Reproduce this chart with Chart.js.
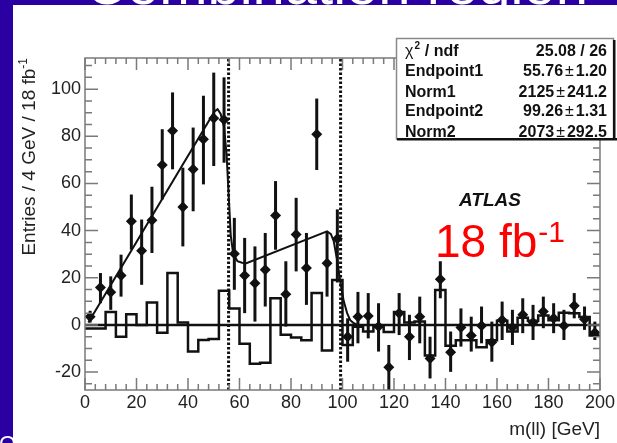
<!DOCTYPE html>
<html>
<head>
<meta charset="utf-8">
<script src="https://cdn.jsdelivr.net/npm/chart.js@4"></script>
<style>
body { margin: 0; background: #fff; }
canvas { display: block; }
</style>
</head>
<body>
<canvas id="myChart" width="617" height="443"></canvas>
<script>
// bin centres (4 GeV bins)
var binCenters = [2, 6, 10, 14, 18, 22, 26, 30, 34, 38, 42, 46, 50, 54, 58, 62, 66, 70, 74, 78,
    82, 86, 90, 94, 98, 102, 106, 110, 114, 118, 122, 126, 130, 134, 138, 142, 146, 150, 154, 158,
    162, 166, 170, 174, 178, 182, 186, 190, 194, 198];
// points with error bars
var dataValues = [3.5, 15.9, 13.9, 21, 44, 31.5, 44.4, 67.8, 82.3, 50,
    66, 78.7, 87.7, 87, 30.2, 21, 17.7, 23.4, 46.4, 13,
    38.3, 24.1, 80.9, 26.2, 36.5, -5, 3.5, 3.8, -0.7, -18,
    5, -5, 3.5, -14.2, 19.4, -11.6, -1.1, -4.5, -0.4, -7.4,
    2.1, -1, 4.3, 1, 5.7, 2.8, -0.4, 8.1, 2.4, -3.3];
var errHigh = [6, 22, 20.6, 29.8, 55.3, 44.7, 58.6, 83, 98.6, 66.7,
    83.7, 97.2, 107, 105, 45.4, 36.9, 33.3, 39, 61, 27,
    53.9, 39, 96, 39.7, 49, 2.8, 14, 13.5, 9.2, -8.5,
    13.5, 4.3, 12, -5, 27, -2.8, 7, 3.5, 7.8, 1.4,
    9.9, 6.4, 11.3, 8.5, 12, 9.2, 6.4, 13.5, 7.8, 1.4];
var errLow = [1, 9.2, 6.4, 12, 31.9, 17, 30.5, 53.2, 66, 33.3,
    48.2, 59.6, 67.4, 68.8, 14.9, 5, 1.4, 7.8, 31.9, -0.7,
    22.7, 8.5, 65.7, 12, 18, -15.6, -7.8, -5.7, -11.3, -27.7,
    -4.3, -14.9, -7.8, -22.7, 11.3, -19.9, -9.2, -11.3, -7.8, -15.6,
    -6.4, -8.5, -3.5, -6.4, -1.4, -3.5, -6.4, 2.8, -2.1, -6.4];
// open histogram (one value per bin)
var histValues = [-1.5, -1.5, 5.5, -5, 4.5, 0, 9.5, -3.3, 22, 1,
    -11.3, -6.4, -6, 14.5, 7, -8, -16.5, -16, 11.3, -4.2,
    -5.3, -6.5, 13.5, -10.8, 19, -8.5, -0.8, -2.8, -0.8, -3,
    5.5, 1, 1.5, -13, 14.8, -8.8, -6.5, -6.5, -9.5, -6.5,
    1.8, -2.8, 3, 1.8, 4, 2, 5.2, 5, 3.4, -4.5];
// fit curve
var fitX = [1.3, 50.3, 51.5, 52.7, 54, 55, 55.8, 56.6, 57.5, 59.2, 61, 62.7,
    94, 95.5, 96.6, 98, 99.2, 100.5, 101.8, 103, 104.4, 106, 200];
var fitY = [1, 90.5, 91.5, 89.5, 84, 72, 55, 38, 30.5, 27, 26.4, 26.2,
    39.7, 38.5, 35.5, 27, 17.7, 10, 5, 2, 0.7, 0, 0];
var endpoints = [55.76, 99.26];
var xTicks = [0, 20, 40, 60, 80, 100, 120, 140, 160, 180, 200];
var yTicks = [-20, 0, 20, 40, 60, 80, 100];
var xMin = 0, xMax = 200, yMin = -27.6, yMax = 113.2;

var statsLabels = ['Endpoint1', 'Norm1', 'Endpoint2', 'Norm2'];
var statsVals = ['55.76', '2125', '99.26', '2073'];
var statsErrs = ['1.20', '241.2', '1.31', '292.5'];

var fuente = '"Liberation Sans", Arial, Helvetica, sans-serif';
Chart.defaults.font.family = fuente;
Chart.defaults.color = '#222';

var puntos = binCenters.map(function (x, i) { return { x: x, y: dataValues[i] }; });
var histPts = binCenters.map(function (x, i) { return { x: x - 2, y: histValues[i] }; });
histPts.push({ x: xMax, y: histValues[histValues.length - 1] });
var fitPts = fitX.map(function (x, i) { return { x: x, y: fitY[i] }; });

var decor = {
    id: 'decor',
    beforeDraw: function (chart) {
        var c = chart.ctx;
        c.save();
        // blue slide frame
        c.fillStyle = '#2a00a3';
        c.fillRect(0, 0, 617, 443);
        c.fillStyle = '#fff';
        c.fillRect(13, 5, 604, 438);
        // slide title, mostly cut off
        c.save();
        c.beginPath(); c.rect(13, 0, 604, 5); c.clip();
        c.fillStyle = '#fff';
        c.font = '58px ' + fuente;
        c.textBaseline = 'alphabetic';
        c.fillText('Combination region', 85, 4);
        c.restore();
        c.save();
        c.beginPath(); c.rect(0, 380, 13, 63); c.clip();
        c.fillStyle = '#fff';
        c.font = '22px ' + fuente;
        c.fillText('O', -1, 451);
        c.restore();
        c.restore();
    },
    afterDatasetsDraw: function (chart) {
        var c = chart.ctx, xs = chart.scales.x, ys = chart.scales.y, a = chart.chartArea;
        c.save();
        c.beginPath(); c.rect(a.left, a.top, a.right - a.left, a.bottom - a.top); c.clip();
        c.strokeStyle = '#111';
        c.lineWidth = 3;
        for (var i = 0; i < binCenters.length; i++) {
            var px = xs.getPixelForValue(binCenters[i]);
            c.beginPath();
            c.moveTo(px, ys.getPixelForValue(errHigh[i]));
            c.lineTo(px, ys.getPixelForValue(errLow[i]));
            c.stroke();
        }
        c.restore();
    },
    afterDraw: function (chart) {
        var c = chart.ctx, xs = chart.scales.x, ys = chart.scales.y, a = chart.chartArea;
        c.save();
        // frame and ticks
        c.strokeStyle = '#7a7a7a';
        c.lineWidth = 1.5;
        c.strokeRect(a.left, a.top, a.right - a.left, a.bottom - a.top);
        c.beginPath();
        for (var v = xMin; v <= xMax; v += 4) {
            var px = xs.getPixelForValue(v);
            var len = (v % 20 === 0) ? 12 : 6;
            c.moveTo(px, a.bottom); c.lineTo(px, a.bottom - len);
            c.moveTo(px, a.top); c.lineTo(px, a.top + len);
        }
        for (var w = -25; w <= 110; w += 5) {
            var py = ys.getPixelForValue(w);
            var l2 = (w % 20 === 0) ? 13 : 7;
            c.moveTo(a.left, py); c.lineTo(a.left + l2, py);
            c.moveTo(a.right, py); c.lineTo(a.right - l2, py);
        }
        c.stroke();

        // y axis title with superscript
        c.save();
        c.translate(35, 58);
        c.rotate(-Math.PI / 2);
        c.fillStyle = '#222';
        c.textBaseline = 'alphabetic';
        c.textAlign = 'right';
        c.font = '12px ' + fuente;
        var wSup = c.measureText('-1').width;
        c.fillText('-1', 0, -8);
        c.font = '19px ' + fuente;
        c.fillText('Entries / 4 GeV / 18 fb', -wSup, 0);
        c.restore();

        // stats box
        c.fillStyle = '#fff';
        c.fillRect(396, 38, 218, 101);
        c.strokeStyle = '#8a8a8a';
        c.lineWidth = 1.5;
        c.strokeRect(396.5, 38.5, 217, 100.5);
        c.fillStyle = '#111';
        c.fillRect(397, 138, 220, 2.5);
        c.fillRect(613, 40, 2.5, 100);

        var baselines = [56, 76, 97, 115.5, 137];
        c.fillStyle = '#111';
        c.textBaseline = 'alphabetic';
        c.textAlign = 'left';
        c.font = '16px ' + fuente;
        c.fillText('\u03c7', 405, baselines[0]);
        var wChi = c.measureText('\u03c7').width;
        c.font = 'bold 10px ' + fuente;
        c.fillText('2', 405 + wChi + 1, baselines[0] - 7);
        c.font = 'bold 16px ' + fuente;
        c.fillText(' / ndf', 405 + wChi + 7, baselines[0]);
        c.textAlign = 'right';
        c.fillText('25.08 / 26', 607, baselines[0]);
        for (var k = 0; k < statsLabels.length; k++) {
            var b = baselines[k + 1];
            c.textAlign = 'left';
            c.font = 'bold 16px ' + fuente;
            c.fillText(statsLabels[k], 405, b);
            c.textAlign = 'right';
            c.fillText(statsErrs[k], 607, b);
            var we = c.measureText(statsErrs[k]).width;
            c.font = '16px ' + fuente;
            c.fillText('\u00b1', 607 - we - 2, b);
            var wpm = c.measureText('\u00b1').width;
            c.font = 'bold 16px ' + fuente;
            c.fillText(statsVals[k], 607 - we - wpm - 4, b);
        }

        // ATLAS label and luminosity
        c.textAlign = 'left';
        c.fillStyle = '#111';
        c.font = 'italic bold 19px ' + fuente;
        c.fillText('ATLAS', 459, 206);
        c.fillStyle = '#ff0000';
        c.font = '46px ' + fuente;
        c.fillText('18 fb', 435, 257);
        var wLum = c.measureText('18 fb').width;
        c.font = '30px ' + fuente;
        c.fillText('-1', 435 + wLum + 1, 242);
        c.restore();
    }
};

var ctx = document.getElementById('myChart').getContext('2d');
var myChart = new Chart(ctx, {
    type: 'scatter',
    data: {
        datasets: [
            {
                label: 'hist',
                data: histPts,
                showLine: true,
                stepped: true,
                borderColor: '#111',
                borderWidth: 2.5,
                pointRadius: 0
            },
            {
                label: 'zero',
                data: [{ x: xMin, y: 0 }, { x: xMax, y: 0 }],
                showLine: true,
                borderColor: '#111',
                borderWidth: 2.5,
                pointRadius: 0
            },
            {
                label: 'fit',
                data: fitPts,
                showLine: true,
                borderColor: '#111',
                borderWidth: 2,
                pointRadius: 0
            },
            {
                label: 'Endpoint1',
                data: [{ x: endpoints[0], y: yMin }, { x: endpoints[0], y: yMax }],
                showLine: true,
                borderColor: '#111',
                borderWidth: 3,
                borderDash: [2.5, 2],
                pointRadius: 0
            },
            {
                label: 'Endpoint2',
                data: [{ x: endpoints[1], y: yMin }, { x: endpoints[1], y: yMax }],
                showLine: true,
                borderColor: '#111',
                borderWidth: 3,
                borderDash: [2.5, 2],
                pointRadius: 0
            },
            {
                label: 'data',
                data: puntos,
                pointStyle: 'rectRot',
                pointRadius: 5.5,
                backgroundColor: '#111',
                borderWidth: 0
            }
        ]
    },
    options: {
        responsive: false,
        animation: false,
        devicePixelRatio: 1,
        layout: { padding: { top: 58, right: 17, bottom: 0, left: 0 } },
        plugins: { legend: { display: false }, tooltip: { enabled: false } },
        scales: {
            x: {
                type: 'linear',
                min: xMin,
                max: xMax,
                afterBuildTicks: function (s) { s.ticks = xTicks.map(function (v) { return { value: v }; }); },
                afterFit: function (s) { s.height = 53; },
                ticks: { font: { size: 18 }, padding: 2, autoSkip: false, maxRotation: 0 },
                grid: { display: false, drawTicks: false },
                border: { display: false },
                title: {
                    display: true,
                    text: 'm(ll) [GeV]',
                    align: 'end',
                    font: { size: 19 },
                    padding: { top: 0, bottom: 2 }
                }
            },
            y: {
                type: 'linear',
                min: yMin,
                max: yMax,
                afterBuildTicks: function (s) { s.ticks = yTicks.map(function (v) { return { value: v }; }); },
                afterFit: function (s) { s.width = 85; },
                ticks: { font: { size: 18 }, padding: 4 },
                grid: { display: false, drawTicks: false },
                border: { display: false }
            }
        }
    },
    plugins: [decor]
});
</script>
</body>
</html>
